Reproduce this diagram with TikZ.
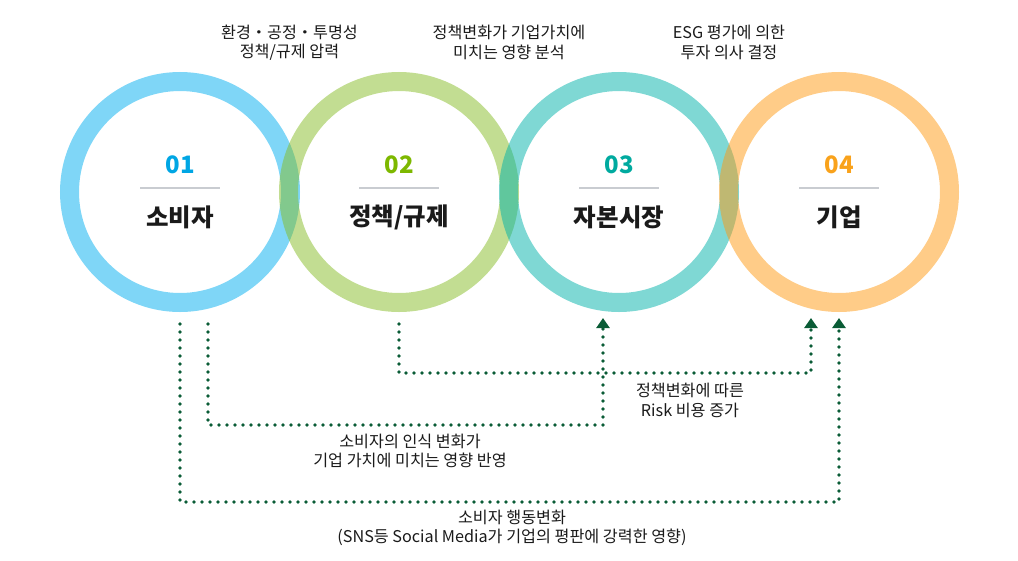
\documentclass[tikz,border=0pt]{standalone}
\usepackage{fontspec}
\setmainfont{Noto Sans CJK KR}
\usepackage{tikz}
\usetikzlibrary{arrows.meta,positioning,calc}
\definecolor{consblue}{HTML}{00AEEF}
\definecolor{polgreen}{HTML}{86BC25}
\definecolor{capteal}{HTML}{00B1A9}
\definecolor{corporange}{HTML}{FF9A12}
\definecolor{numblue}{HTML}{00A6E4}
\definecolor{numgreen}{HTML}{7DB800}
\definecolor{numteal}{HTML}{00AA9F}
\definecolor{numorange}{HTML}{F9A21B}
\definecolor{linkgreen}{HTML}{0A5C36}
\definecolor{rulegray}{HTML}{C9CCD1}
\definecolor{ink}{HTML}{1A1A1A}
\tikzset{
  ring/.style ={circle,draw=#1,draw opacity=0.5,line width=19pt,
                minimum size=221pt,inner sep=0pt},
  num/.style  ={font=\fontsize{24}{24}\selectfont\bfseries,inner sep=0pt},
  title/.style={font=\fontsize{24.5}{24.5}\selectfont\bfseries,text=ink,inner sep=0pt},
  note/.style ={align=center,text=ink,inner sep=0pt,
                font=\fontsize{16.2}{19.5}\selectfont},
  rule/.style ={draw=rulegray,line width=2pt},
  link/.style ={draw=linkgreen,line width=3.8pt,dash pattern=on 0pt off 8pt,
                line cap=round,-{Triangle[length=10pt,width=13pt]}}
}

\begin{document}
\begin{tikzpicture}[x=1pt,y=-1pt]
  \useasboundingbox (0,0) rectangle (1018,560);
  % four rings
  \node[ring=consblue]   (cons) at (180,192) {};
  \node[ring=polgreen]   (pol)  at (399,192) {};
  \node[ring=capteal]    (cap)  at (619,192) {};
  \node[ring=corporange] (corp) at (839,192) {};
  % numbers, rules and titles
  \node[num,text=numblue]   (n1) at ($(cons)+(0,-27)$) {01};
  \node[num,text=numgreen]  (n2) at ($(pol)+(0,-27)$)  {02};
  \node[num,text=numteal]   (n3) at ($(cap)+(0,-27)$)  {03};
  \node[num,text=numorange] (n4) at ($(corp)+(0,-27)$) {04};
  \foreach \c in {cons,pol,cap,corp}
    \draw[rule] ($(\c)+(-40,-4)$) -- ($(\c)+(40,-4)$);
  \node[title] (t1) at ($(cons)+(0,25)$) {소비자};
  \node[title] (t2) at ($(pol)+(0,25)$)  {정책/규제};
  \node[title] (t3) at ($(cap)+(0,25)$)  {자본시장};
  \node[title] (t4) at ($(corp)+(0,25)$) {기업};
  % notes above the overlaps
  \node[note] (top12) at ($(cons)!0.5!(pol)+(0,-149.5)$) {환경・공정・투명성\\정책/규제 압력};
  \node[note] (top23) at ($(pol)!0.5!(cap)+(0,-149.5)$)  {정책변화가 기업가치에\\미치는 영향 분석};
  \node[note] (top34) at ($(cap)!0.5!(corp)+(0,-149.5)$) {ESG 평가에 의한\\투자 의사 결정};
  % dotted links
  \draw[link] ($(cons.south)+(0,12)$) -- ++(0,178) -| ($(corp.south)+(0,6)$);
  \draw[link] ($(cons.south)+(28,12)$) -- ++(0,101) -| ($(cap.south)+(-16,6)$);
  \draw[link] ($(pol.south)+(0,12)$) -- ++(0,49) -| ($(corp.south)+(-28,6)$);
  \node[note] (lblC) at (690,400.5) {정책변화에 따른\\Risk 비용 증가};
  \node[note] (lblB) at (410,451) {소비자의 인식 변화가\\기업 가치에 미치는 영향 반영};
  \node[note] (lblA) at (512,528) {소비자 행동변화\\(SNS등 Social Media가 기업의 평판에 강력한 영향)};
\end{tikzpicture}
\end{document}
